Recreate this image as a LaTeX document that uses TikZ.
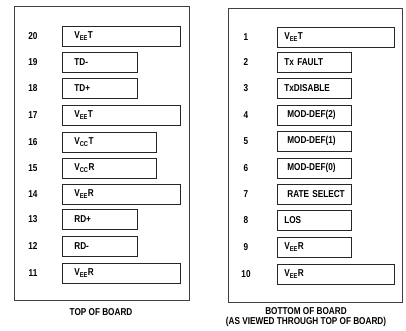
\documentclass[tikz,border=0pt]{standalone}
\usepackage{fontspec}
\setsansfont{Liberation Sans}[FakeStretch=0.82]
\usetikzlibrary{positioning}
\def\vee#1{V\textsubscript{EE}#1}
\def\vcc#1{V\textsubscript{CC}#1}
\tikzstyle{every picture}+=[x=1pt,y=-1pt,font=\sffamily\bfseries\fontsize{10}{11}\selectfont]
\tikzstyle{board}=[draw=black!75,line width=1pt]
\tikzstyle{pinno}=[inner sep=0pt]
\tikzstyle{lpin}=[draw=black!85,line width=0.7pt,anchor=west,minimum height=20pt,inner xsep=12pt,align=left,text width=#1]
\tikzstyle{rpin}=[draw=black!85,line width=0.7pt,anchor=west,minimum height=20pt,inner xsep=4pt,align=left,text width=#1]

\begin{document}
\begin{tikzpicture}
\useasboundingbox (0,0) rectangle (406,331);
% top of board
\draw[board] (14,7) rectangle (189,300);
\node[pinno] (n20) at (33,36) {20};
\node[lpin=94pt] (p20) at (62,36) {\vee{T}};
\node[pinno] (n19) at (33,62) {19};
\node[lpin=51pt] (p19) at (62,62) {TD-};
\node[pinno] (n18) at (33,88) {18};
\node[lpin=51pt] (p18) at (62,88) {TD+};
\node[pinno] (n17) at (33,115) {17};
\node[lpin=94pt] (p17) at (62,115) {\vee{T}};
\node[pinno] (n16) at (33,142) {16};
\node[lpin=70pt] (p16) at (62,142) {\vcc{T}};
\node[pinno] (n15) at (33,168) {15};
\node[lpin=70pt] (p15) at (62,168) {\vcc{R}};
\node[pinno] (n14) at (33,194) {14};
\node[lpin=94pt] (p14) at (62,194) {\vee{R}};
\node[pinno] (n13) at (33,219) {13};
\node[lpin=51pt] (p13) at (62,219) {RD+};
\node[pinno] (n12) at (33,246) {12};
\node[lpin=51pt] (p12) at (62,246) {RD-};
\node[pinno] (n11) at (33,273) {11};
\node[lpin=94pt] (p11) at (62,273) {\vee{R}};
\node (top) at (101,312) {TOP OF BOARD};
% bottom of board
\draw[board] (228,9) rectangle (402,302);
\node[pinno] (n1) at (246,37) {1};
\node[rpin=109pt] (p1) at (277,37) {\hspace*{3pt}\vee{T}};
\node[pinno] (n2) at (246,62) {2};
\node[rpin=66pt] (p2) at (277,62) {\hspace*{3pt}Tx FAULT};
\node[pinno] (n3) at (246,88) {3};
\node[rpin=66pt] (p3) at (277,88) {\hspace*{3pt}TxDISABLE};
\node[pinno] (n4) at (246,115) {4};
\node[rpin=66pt] (p4) at (277,115) {\hspace*{6pt}MOD-DEF(2)};
\node[pinno] (n5) at (246,141) {5};
\node[rpin=66pt] (p5) at (277,141) {\hspace*{6pt}MOD-DEF(1)};
\node[pinno] (n6) at (246,168) {6};
\node[rpin=66pt] (p6) at (277,168) {\hspace*{6pt}MOD-DEF(0)};
\node[pinno] (n7) at (246,194) {7};
\node[rpin=66pt] (p7) at (277,194) {\hspace*{6pt}\mbox{RATE SELECT}};
\node[pinno] (n8) at (246,220) {8};
\node[rpin=66pt] (p8) at (277,220) {\hspace*{3pt}LOS};
\node[pinno] (n9) at (246,247) {9};
\node[rpin=66pt] (p9) at (277,247) {\hspace*{3pt}\vee{R}};
\node[pinno] (n10) at (246,274) {10};
\node[rpin=109pt] (p10) at (277,274) {\hspace*{3pt}\vee{R}};
\node[align=center,inner sep=0pt] (bottom) at (306,317) {BOTTOM OF BOARD\\[-1pt](AS VIEWED THROUGH TOP OF BOARD)};
\end{tikzpicture}
\end{document}
